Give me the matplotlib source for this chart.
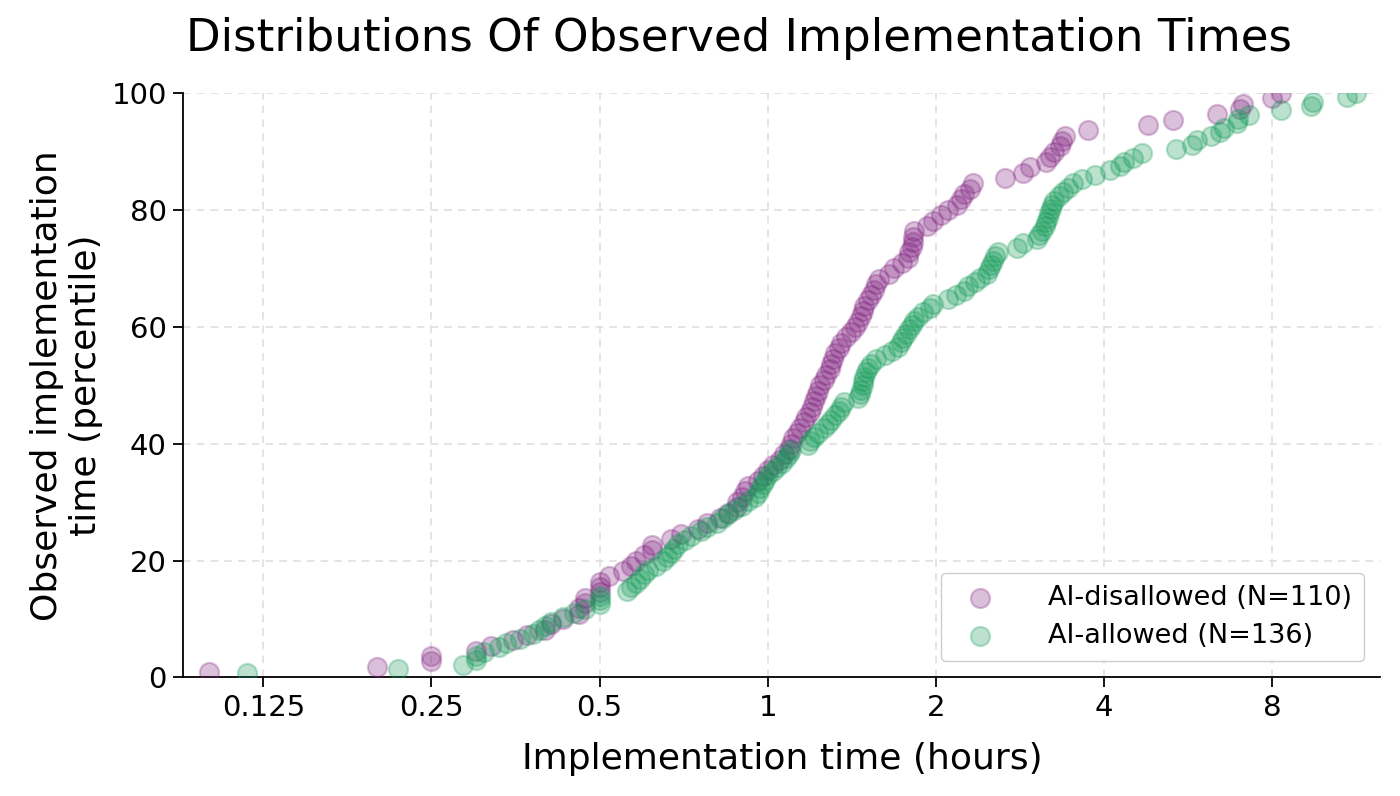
import numpy as np
import matplotlib
matplotlib.use("Agg")
import matplotlib.pyplot as plt
from matplotlib.ticker import FixedLocator, NullLocator

# observed implementation times (hours), sorted
ai_disallowed_hours = [
    0.10, 0.20, 0.25, 0.25, 0.30, 0.32, 0.35, 0.37, 0.40, 0.41,
    0.43, 0.46, 0.46, 0.47, 0.47, 0.50, 0.50, 0.50, 0.52, 0.55,
    0.57, 0.58, 0.60, 0.62, 0.62, 0.67, 0.70, 0.75, 0.78, 0.82,
    0.85, 0.88, 0.88, 0.90, 0.91, 0.92, 0.96, 0.98, 1.00, 1.02,
    1.05, 1.07, 1.09, 1.10, 1.11, 1.13, 1.14, 1.16, 1.17, 1.19,
    1.20, 1.21, 1.22, 1.23, 1.24, 1.26, 1.27, 1.29, 1.30, 1.31,
    1.32, 1.34, 1.35, 1.38, 1.41, 1.43, 1.45, 1.47, 1.48, 1.49,
    1.51, 1.53, 1.55, 1.56, 1.58, 1.65, 1.68, 1.74, 1.78, 1.79,
    1.81, 1.82, 1.82, 1.83, 1.93, 1.98, 2.04, 2.10, 2.18, 2.22,
    2.25, 2.30, 2.33, 2.66, 2.86, 2.95, 3.15, 3.20, 3.25, 3.33,
    3.37, 3.40, 3.75, 4.79, 5.31, 6.38, 7.00, 7.10, 8.00, 8.30,
]

ai_allowed_hours = [
    0.117, 0.218, 0.285, 0.30, 0.30, 0.31, 0.33, 0.34, 0.36, 0.38,
    0.39, 0.40, 0.41, 0.43, 0.45, 0.47, 0.50, 0.50, 0.50, 0.56,
    0.57, 0.58, 0.59, 0.60, 0.61, 0.63, 0.65, 0.66, 0.67, 0.68,
    0.69, 0.71, 0.73, 0.76, 0.78, 0.81, 0.83, 0.85, 0.87, 0.90,
    0.92, 0.95, 0.96, 0.97, 0.98, 0.99, 1.00, 1.02, 1.04, 1.06,
    1.08, 1.09, 1.10, 1.18, 1.19, 1.21, 1.23, 1.26, 1.28, 1.30,
    1.32, 1.34, 1.35, 1.37, 1.45, 1.46, 1.47, 1.48, 1.48, 1.49,
    1.50, 1.51, 1.53, 1.56, 1.62, 1.67, 1.71, 1.73, 1.75, 1.77,
    1.79, 1.81, 1.83, 1.86, 1.90, 1.95, 1.98, 2.10, 2.17, 2.25,
    2.28, 2.35, 2.40, 2.47, 2.49, 2.51, 2.53, 2.55, 2.58, 2.80,
    2.86, 3.03, 3.06, 3.10, 3.13, 3.15, 3.17, 3.19, 3.21, 3.23,
    3.26, 3.32, 3.38, 3.45, 3.52, 3.66, 3.85, 4.10, 4.28, 4.35,
    4.50, 4.67, 5.39, 5.75, 5.87, 6.22, 6.45, 6.55, 6.91, 6.95,
    7.28, 8.30, 9.40, 9.45, 10.9, 11.3,
]

x_ticks = [0.125, 0.25, 0.5, 1, 2, 4, 8]
x_tick_labels = ["0.125", "0.25", "0.5", "1", "2", "4", "8"]

plt.rcParams['font.family'] = ['DejaVu Sans']

fig, ax = plt.subplots(figsize=(14, 7.96), dpi=100)

groups = [
    (ai_disallowed_hours, "#80207f", "AI-disallowed"),
    (ai_allowed_hours, "#0f9a55", "AI-allowed"),
]
for hours, color, label in groups:
    hours = np.sort(np.asarray(hours))
    pct = np.arange(1, len(hours) + 1) / len(hours) * 100
    ax.scatter(hours, pct, s=190, color=color, alpha=0.28, linewidths=1.6,
               label=f"{label} (N={len(hours)})", zorder=3)

ax.set_xscale('log', base=2)
ax.set_xlim(0.0899, 12.5)
ax.set_ylim(0, 100)
ax.xaxis.set_major_locator(FixedLocator(x_ticks))
ax.xaxis.set_minor_locator(NullLocator())
ax.set_xticklabels(x_tick_labels)
ax.set_yticks([0, 20, 40, 60, 80, 100])

ax.grid(True, linestyle=(0, (5, 4)), color='#dddddd', linewidth=1.1, zorder=0)
ax.spines['top'].set_visible(False)
ax.spines['right'].set_visible(False)
ax.spines['left'].set_linewidth(1.3)
ax.spines['bottom'].set_linewidth(1.3)
ax.tick_params(labelsize=21, length=7, width=1.3, pad=5)

ax.set_xlabel("Implementation time (hours)", fontsize=26, labelpad=14)
ax.set_ylabel("Observed implementation\ntime (percentile)", fontsize=26, labelpad=6)
ax.set_title("Distributions Of Observed Implementation Times", fontsize=32.5,
             pad=30, x=0.4645)

ax.legend(loc='lower right', fontsize=19.5, handletextpad=1.5, borderpad=0.45,
          labelspacing=0.45, framealpha=1.0, edgecolor='#cccccc', fancybox=True,
          borderaxespad=0.6)

fig.subplots_adjust(left=0.131, right=0.986, top=0.883, bottom=0.149)
fig.savefig("out.png", dpi=100)
